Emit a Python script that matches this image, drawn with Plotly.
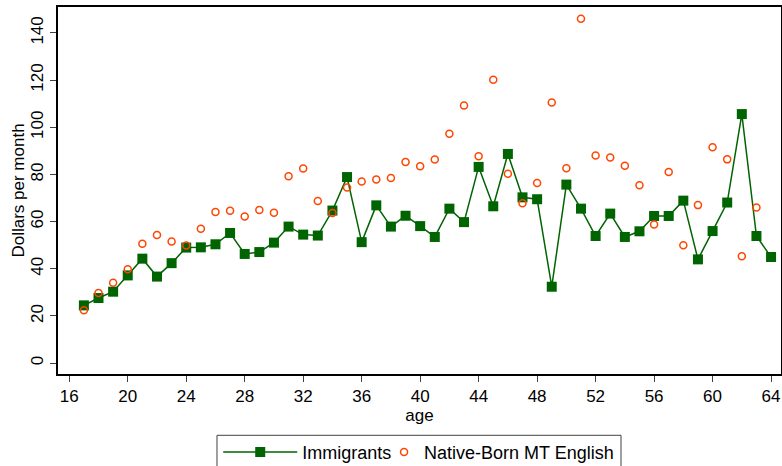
import plotly.graph_objects as go

ages = list(range(17, 65))
immigrants = [24.5, 27.6, 30.3, 37.2, 44.3, 36.7, 42.4, 49.0, 49.1, 50.4,
              55.2, 46.3, 47.1, 51.1, 57.9, 54.5, 54.1, 64.7, 78.9, 51.3,
              66.9, 57.9, 62.5, 58.1, 53.5, 65.5, 59.8, 83.2, 66.5, 88.7,
              70.3, 69.5, 32.4, 75.7, 65.5, 53.9, 63.4, 53.5, 55.9, 62.4,
              62.4, 68.9, 44.0, 56.0, 68.1, 105.6, 53.9, 45.0]
native_ages = list(range(17, 64))
natives = [22.4, 29.7, 34.1, 39.8, 50.6, 54.3, 51.6, 49.9, 57.0, 64.1,
           64.6, 62.2, 64.9, 63.8, 79.2, 82.5, 68.7, 63.7, 74.5, 77.0,
           77.9, 78.5, 85.3, 83.5, 86.3, 97.3, 109.2, 87.7, 120.2, 80.3,
           67.8, 76.4, 110.5, 82.6, 146.0, 88.0, 87.2, 83.7, 75.4, 58.8,
           81.0, 50.0, 67.0, 91.5, 86.4, 45.3, 66.0]
x_ticks = list(range(16, 65, 4))
y_ticks = list(range(0, 141, 20))

font = "Liberation Sans, Arial, sans-serif"
fig = go.Figure()
fig.add_trace(go.Scatter(
    x=ages, y=immigrants, mode="lines+markers", name="Immigrants",
    line=dict(color="#006400", width=1.5),
    marker=dict(symbol="square", size=10, color="#006400"),
    legend="legend",
))
fig.add_trace(go.Scatter(
    x=native_ages, y=natives, mode="markers", name="Native-Born MT English",
    marker=dict(symbol="circle-open", size=7, color="#FF4500",
                line=dict(width=1.5, color="#FF4500")),
    legend="legend2",
))

# plot frame: x 58..781 px, y 7..374 px
fig.update_layout(
    width=782, height=466,
    margin=dict(l=58, r=1, t=7, b=92, autoexpand=False),
    paper_bgcolor="white", plot_bgcolor="white",
    font=dict(family=font, size=17, color="black"),
    showlegend=True,
    legend=dict(orientation="h", x=0.2216, xanchor="left",
                yref="container", y=0.069, yanchor="top",
                bgcolor="rgba(0,0,0,0)", borderwidth=0,
                font=dict(size=18), itemwidth=74),
    legend2=dict(orientation="h", x=0.451, xanchor="left",
                 yref="container", y=0.069, yanchor="top",
                 bgcolor="rgba(0,0,0,0)", borderwidth=0,
                 font=dict(size=18), itemwidth=30),
    shapes=[dict(type="rect", xref="paper", yref="paper",
                 x0=0.2199, x1=0.7787, y0=-0.167, y1=-0.27,
                 line=dict(color="#404040", width=1), layer="below")],
    xaxis=dict(range=[15.23, 64.68], tickmode="array", tickvals=x_ticks,
               ticks="outside", ticklen=6, tickcolor="#404040",
               showline=True, linecolor="black", linewidth=1.5, mirror=True,
               showgrid=False, zeroline=False, automargin=False,
               title=dict(text="age", standoff=2, font=dict(size=17)),
               tickfont=dict(size=17)),
    yaxis=dict(range=[-4.6, 151], tickmode="array", tickvals=y_ticks,
               ticks="outside", ticklen=6, tickcolor="#404040", tickangle=-90,
               showline=True, linecolor="black", linewidth=1.5, mirror=True,
               showgrid=False, zeroline=False, automargin=False,
               title=dict(text="Dollars per month", standoff=0,
                          font=dict(size=17)),
               tickfont=dict(size=17)),
)
fig.write_html("out.html",
               config={"displayModeBar": False},
               post_script="document.body.style.margin='0';"
                           "document.body.style.overflow='hidden';")
